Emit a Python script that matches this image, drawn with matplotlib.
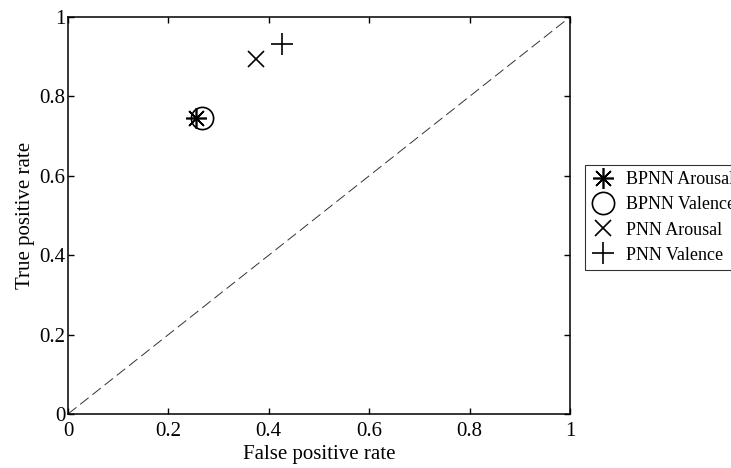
import matplotlib
matplotlib.use('Agg')
import matplotlib.pyplot as plt

labels = ['BPNN Arousal', 'BPNN Valence', 'PNN Arousal', 'PNN Valence']
fpr = [0.255, 0.266, 0.375, 0.426]
tpr = [0.745, 0.745, 0.893, 0.932]
markers = ['*', 'o', 'x', '+']
msizes = [15, 16, 12, 16]
ticks = [0, 0.2, 0.4, 0.6, 0.8, 1]

plt.rcParams['font.family'] = ['Liberation Serif', 'DejaVu Serif']

fig = plt.figure(figsize=(7.31, 4.68), dpi=100)
ax = fig.add_axes([68/731, 54/468, 502/731, 397/468])

ax.plot([0, 1], [0, 1], color='#333333', linestyle=(0, (11, 5)), linewidth=0.7)
for lab, x, y, m, s in zip(labels, fpr, tpr, markers, msizes):
	if m == '*':
		ax.plot(x, y, marker=(8, 2, 0), color='k', markersize=s, markeredgewidth=1.2, linestyle='none', label=lab)
	else:
		ax.plot(x, y, marker=m, color='k', markerfacecolor='none', markersize=s, markeredgewidth=1.2, linestyle='none', label=lab)

ax.set_xlim(0, 1)
ax.set_ylim(0, 1)
ax.set_xticks(ticks)
ax.set_yticks(ticks)
ax.set_xticklabels(['0', '0.2', '0.4', '0.6', '0.8', '1'])
ax.set_yticklabels(['0', '0.2', '0.4', '0.6', '0.8', '1'])
for sp in ax.spines.values():
	sp.set_linewidth(1.1)
ax.tick_params(direction='in', top=True, right=True, labelsize=15, length=4, width=1.0)
ax.tick_params(axis='x', pad=6)
ax.tick_params(axis='y', pad=2)
ax.set_xlabel('False positive rate', fontsize=15, labelpad=3)
ax.set_ylabel('True positive rate', fontsize=15, labelpad=3)

leg = ax.legend(loc='upper left', bbox_to_anchor=(585/731, 1-165/468), bbox_transform=fig.transFigure,
	borderaxespad=0, fancybox=False, edgecolor='k', fontsize=13, handlelength=1.3, handletextpad=0.6,
	labelspacing=0.45, borderpad=0.35)
leg.get_frame().set_linewidth(0.8)

fig.savefig('out.png', dpi=100)
